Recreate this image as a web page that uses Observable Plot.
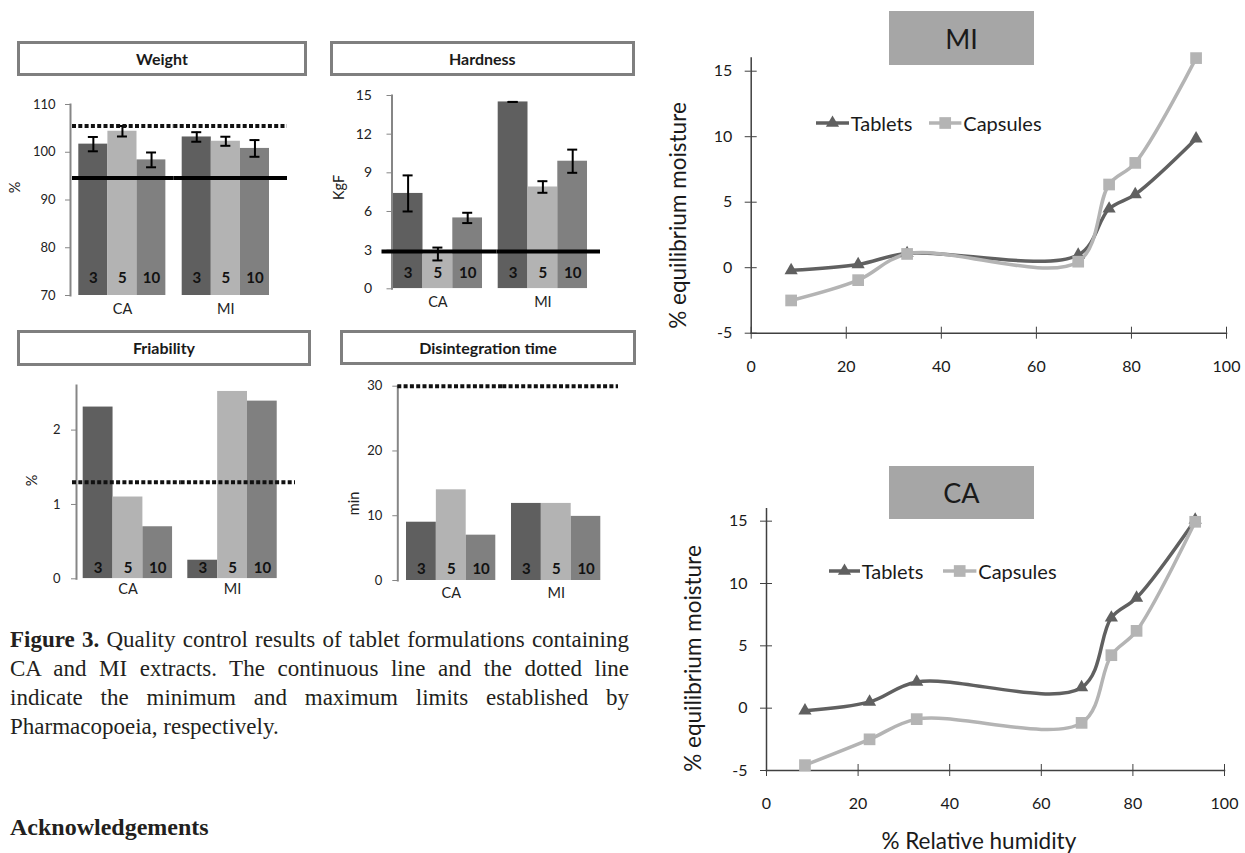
<!DOCTYPE html>
<html>
<head>
<meta charset="utf-8">
<script src="https://cdn.jsdelivr.net/npm/d3@7"></script>
<script src="https://cdn.jsdelivr.net/npm/@observablehq/plot@0.6"></script>
<style>
  body { margin: 0; background: #fff; }
  #page { position: relative; width: 1245px; height: 853px; overflow: hidden; background: #fff; font-family: Lato, sans-serif; }
  .panel-title { position: absolute; box-sizing: border-box; border: 3px solid #7f7f7f; background: #fff;
    display: flex; align-items: center; justify-content: center; font: bold 16px Lato, sans-serif; color: #1a1a1a; }
  .big-title { position: absolute; background: #a6a6a6; display: flex; align-items: center; justify-content: center;
    font: 27px Lato, sans-serif; color: #1a1a1a; }
  .legend-item { position: absolute; display: flex; align-items: center; font: 20px Lato, sans-serif; color: #1a1a1a; white-space: nowrap; height: 24px; }
  #caption { position: absolute; left: 10px; top: 625px; width: 619px; font: 23px "Liberation Serif", "Times New Roman", serif; line-height: 29px; color: #231f20; }
  #caption .j { text-align: justify; text-align-last: justify; }
  #ack { position: absolute; left: 10px; top: 814px; font: bold 24px "Liberation Serif", "Times New Roman", serif; color: #231f20; }
</style>
</head>
<body>
<div id="page"></div>
<script>
// ---------------- data ----------------
const groups = ["CA", "MI"];
const concentrations = ["3", "5", "10"];

const weightValues = [101.7, 104.4, 98.4, 103.2, 102.3, 100.8];
const weightErrors = [1.5, 1.1, 1.55, 1.0, 0.95, 1.75];
const weightMin = 94.6;
const weightMax = 105.5;
const weightTicks = [70, 80, 90, 100, 110];

const hardnessValues = [7.4, 2.7, 5.5, 14.5, 7.9, 9.9];
const hardnessErrors = [1.4, 0.5, 0.4, 0.0, 0.45, 0.9];
const hardnessMin = 2.9;
const hardnessTicks = [0, 3, 6, 9, 12, 15];

const friabilityValues = [2.31, 1.10, 0.70, 0.25, 2.52, 2.39];
const friabilityMax = 1.3;
const friabilityTicks = [0, 1, 2];

const disintegrationValues = [9.0, 14.0, 7.0, 11.9, 11.9, 9.9];
const disintegrationMax = 30;
const disintegrationTicks = [0, 10, 20, 30];

const relativeHumidity = [8.4, 22.5, 32.8, 68.8, 75.3, 80.8, 93.6];
const miTablets  = [-0.2, 0.25, 1.1, 0.97, 4.5, 5.6, 9.85];
const miCapsules = [-2.5, -0.95, 1.05, 0.46, 6.35, 8.0, 16.0];
const caTablets  = [-0.2, 0.5, 2.1, 1.66, 7.25, 8.85, 15.1];
const caCapsules = [-4.57, -2.5, -0.88, -1.18, 4.25, 6.2, 14.95];
const moistureYTicks = [-5, 0, 5, 10, 15];
const moistureXTicks = [0, 20, 40, 60, 80, 100];
const seriesNames = ["Tablets", "Capsules"];

// ---------------- styles ----------------
const barColors = ["#5f5f5f", "#b3b3b3", "#808080"];
const axisGray = "#868686";
const darkSeries = "#606060";
const lightSeries = "#b4b4b4";

const page = document.getElementById("page");
function place(el, left, top) {
  el.style.position = "absolute";
  el.style.left = left + "px";
  el.style.top = top + "px";
  page.appendChild(el);
}

// ---------------- bar panels ----------------
function barPanel(cfg) {
  const {lay, values, errors, mins, maxs, yDomain, yTicks, yLabel, labelPos, tickFont, tickPad, fxPad, concDy, extLeft = 0} = cfg;
  const data = groups.flatMap((g, gi) => concentrations.map((c, ci) => ({
    group: g, conc: c, value: values[gi * 3 + ci], err: errors ? errors[gi * 3 + ci] : null
  })));
  const inset = lay.s - lay.L;
  const band = inset + 3 * lay.w;
  const gapBand = lay.mi - inset - (lay.s + 3 * lay.w);
  const step = band + gapBand;
  const pI = gapBand / step;
  const pO = ((lay.R - lay.L) / step - 2 + pI) / 2;
  const miBandEnd = lay.mi - inset + band;
  const capInset = (lay.w - 10) / 2;
  const withErr = data.filter(d => d.err != null);

  function limit(v, dashed) {
    const style = dashed
      ? {stroke: "#111", strokeWidth: 4, strokeDasharray: "4,2.3"}
      : {stroke: "#000", strokeWidth: 4};
    return [
      Plot.ruleY([{group: groups[0], v}], {fx: "group", y: "v", insetLeft: -extLeft, insetRight: -gapBand, ...style}),
      Plot.ruleY([{group: groups[1], v}], {fx: "group", y: "v", insetLeft: 0, insetRight: -(lay.R - miBandEnd), ...style})
    ];
  }

  const marks = [
    Plot.barY(data, {fx: "group", x: "conc", y: "value", fill: "conc", clip: true}),
  ];
  if (errors) {
    marks.push(
      Plot.ruleX(withErr, {fx: "group", x: "conc", y1: d => d.value - d.err, y2: d => d.value + d.err, stroke: "#000", strokeWidth: 2}),
      Plot.tickY(withErr, {fx: "group", x: "conc", y: d => d.value + d.err, insetLeft: capInset, insetRight: capInset, stroke: "#000", strokeWidth: 2}),
      Plot.tickY(withErr, {fx: "group", x: "conc", y: d => d.value - d.err, insetLeft: capInset, insetRight: capInset, stroke: "#000", strokeWidth: 2})
    );
  }
  marks.push(
    Plot.text(data, {fx: "group", x: "conc", text: "conc", frameAnchor: "bottom", dy: -concDy, lineAnchor: "middle",
      fontWeight: "bold", fontSize: 15, fill: "#111"}),
    Plot.axisY({ticks: yTicks, tickSize: 5, tickPadding: tickPad, tickFormat: d => String(d), stroke: axisGray, fill: "#222", fontSize: tickFont, label: null}),
    Plot.axisFx({anchor: "bottom", tickSize: 0, tickPadding: fxPad, dx: inset / 2, fontSize: 14.5, fill: "#222", label: null}),
    Plot.frame({anchor: "left", facet: "super", stroke: axisGray, strokeWidth: 2}),
    Plot.text([yLabel], {facet: "super", text: d => d, frameAnchor: "left", textAnchor: "middle", lineAnchor: "middle",
      dx: labelPos[0] - lay.L, dy: labelPos[1] - (lay.T + lay.B) / 2, rotate: -90, fontSize: 14.5, fill: "#222"})
  );
  for (const v of mins) marks.push(...limit(v, false));
  for (const v of maxs) marks.push(...limit(v, true));

  const chart = Plot.plot({
    width: lay.W, height: lay.H,
    marginLeft: lay.L - lay.left, marginRight: lay.left + lay.W - lay.R,
    marginTop: lay.T - lay.top, marginBottom: lay.top + lay.H - lay.B,
    style: {fontFamily: "Lato, sans-serif", background: "transparent", overflow: "visible"},
    fx: {domain: groups, paddingInner: pI, paddingOuter: pO, align: 0, round: false},
    x: {domain: concentrations, padding: 0, insetLeft: inset, round: false, axis: null},
    y: {domain: yDomain},
    color: {domain: concentrations, range: barColors},
    marks
  });
  place(chart, lay.left, lay.top);
}

barPanel({
  lay: {left: 0, top: 0, W: 320, H: 330, L: 70, R: 287, s: 78.3, w: 29.1, mi: 181.7, T: 104, B: 295},
  values: weightValues, errors: weightErrors, mins: [weightMin], maxs: [weightMax],
  yDomain: [70, 110], yTicks: weightTicks, yLabel: "%", labelPos: [14.5, 187],
  tickFont: 13, tickPad: 10, fxPad: 8, concDy: 17.5, extLeft: -2
});
barPanel({
  lay: {left: 320, top: 0, W: 330, H: 330, L: 391.5, R: 600, s: 392.7, w: 29.8, mi: 497.7, T: 95, B: 288.3},
  values: hardnessValues, errors: hardnessErrors, mins: [hardnessMin], maxs: [],
  yDomain: [0, 15], yTicks: hardnessTicks, yLabel: "KgF", labelPos: [339, 187],
  tickFont: 14, tickPad: 15, fxPad: 8, concDy: 16, extLeft: 10
});
barPanel({
  lay: {left: 0, top: 330, W: 320, H: 290, L: 76, R: 295, s: 82.7, w: 29.85, mi: 187.3, T: 385, B: 578.3},
  values: friabilityValues, errors: null, mins: [], maxs: [friabilityMax],
  yDomain: [0, 2.6], yTicks: friabilityTicks, yLabel: "%", labelPos: [32, 480],
  tickFont: 13, tickPad: 11, fxPad: 4.5, concDy: 10.6, extLeft: 4
});
barPanel({
  lay: {left: 320, top: 330, W: 330, H: 290, L: 397.3, R: 618, s: 406, w: 29.85, mi: 511, T: 385.7, B: 580},
  values: disintegrationValues, errors: null, mins: [], maxs: [disintegrationMax],
  yDomain: [0, 30], yTicks: disintegrationTicks, yLabel: "min", labelPos: [354, 503],
  tickFont: 13, tickPad: 10.5, fxPad: 6.8, concDy: 11, extLeft: 0
});

// ---------------- moisture panels ----------------
function moisturePanel({lay, tablets, capsules, yLabelPos, xLabel, xLabelPos}) {
  const t = relativeHumidity.map((x, i) => ({rh: x, v: tablets[i]}));
  const c = relativeHumidity.map((x, i) => ({rh: x, v: capsules[i]}));
  const marks = [
    Plot.axisY({ticks: moistureYTicks, tickSize: 6, tickPadding: 13, tickFormat: d => String(d), fontSize: 16,
      stroke: "#404040", fill: "#1a1a1a", label: null}),
    Plot.axisY({ticks: moistureYTicks, tickSize: -6, tickFormat: () => "", stroke: "#404040", label: null}),
    Plot.axisX({ticks: moistureXTicks, tickSize: 6, tickPadding: 21, tickFormat: d => String(d), fontSize: 16,
      stroke: "#404040", fill: "#1a1a1a", label: null}),
    Plot.axisX({ticks: moistureXTicks, tickSize: -6, tickFormat: () => "", stroke: "#404040", label: null}),
    Plot.frame({anchor: "left", stroke: "#404040", strokeWidth: 1.5}),
    Plot.frame({anchor: "bottom", stroke: "#404040", strokeWidth: 1.5}),
    Plot.text(["% equilibrium moisture"], {text: d => d, frameAnchor: "left", textAnchor: "middle", lineAnchor: "middle",
      dx: yLabelPos[0] - lay.L, dy: yLabelPos[1] - (lay.T + lay.B) / 2, rotate: -90, fontSize: 22.5, fill: "#1a1a1a"}),
    Plot.line(t, {x: "rh", y: "v", stroke: darkSeries, strokeWidth: 3.5, curve: "catmull-rom"}),
    Plot.line(c, {x: "rh", y: "v", stroke: lightSeries, strokeWidth: 3.5, curve: "catmull-rom"}),
    Plot.dot(t, {x: "rh", y: "v", symbol: "triangle", r: 4.9, fill: darkSeries, stroke: "none"}),
    Plot.dot(c, {x: "rh", y: "v", symbol: "square", r: 6.6, fill: lightSeries, stroke: "none"})
  ];
  if (xLabel) {
    marks.push(Plot.text([xLabel], {text: d => d, frameAnchor: "bottom", textAnchor: "middle", lineAnchor: "middle",
      dx: xLabelPos[0] - (lay.L + lay.R) / 2, dy: xLabelPos[1] - lay.B, fontSize: 22.5, fill: "#1a1a1a"}));
  }
  const chart = Plot.plot({
    width: lay.W, height: lay.H,
    marginLeft: lay.L - lay.left, marginRight: lay.left + lay.W - lay.R,
    marginTop: lay.T - lay.top, marginBottom: lay.top + lay.H - lay.B,
    style: {fontFamily: "Lato, sans-serif", background: "transparent", overflow: "visible"},
    x: {domain: [0, 100]},
    y: {domain: [-5, 16]},
    marks
  });
  place(chart, lay.left, lay.top);
}

moisturePanel({
  lay: {left: 660, top: 0, W: 585, H: 420, L: 750.7, R: 1226, T: 57.6, B: 332.7},
  tablets: miTablets, capsules: miCapsules, yLabelPos: [678.3, 215]
});
moisturePanel({
  lay: {left: 660, top: 420, W: 585, H: 433, L: 766, R: 1224, T: 508.2, B: 770},
  tablets: caTablets, capsules: caCapsules, yLabelPos: [693.3, 658],
  xLabel: "% Relative humidity", xLabelPos: [978.3, 841.7]
});

// ---------------- titles ----------------
function panelTitle(text, left, top, w, h) {
  const d = document.createElement("div");
  d.className = "panel-title";
  d.style.width = w + "px"; d.style.height = h + "px";
  d.textContent = text;
  place(d, left, top);
}
panelTitle("Weight", 17, 41, 290, 35);
panelTitle("Hardness", 329.5, 41, 305.5, 35);
panelTitle("Friability", 17, 329.5, 294, 36);
panelTitle("Disintegration time", 340, 329.5, 296, 35.5);

function bigTitle(text, left, top, w, h) {
  const d = document.createElement("div");
  d.className = "big-title";
  d.style.width = w + "px"; d.style.height = h + "px";
  d.textContent = text;
  place(d, left, top);
}
bigTitle("MI", 889, 11, 145, 54);
bigTitle("CA", 889, 466, 145, 53);

// ---------------- legends ----------------
function legendItem(name, symbol, color, swLeft, swWidth, textLeft, yCenter) {
  const d = document.createElement("div");
  d.className = "legend-item";
  const ns = "http://www.w3.org/2000/svg";
  const svg = document.createElementNS(ns, "svg");
  svg.setAttribute("width", swWidth); svg.setAttribute("height", 24);
  const line = document.createElementNS(ns, "line");
  line.setAttribute("x1", 0); line.setAttribute("x2", swWidth);
  line.setAttribute("y1", 12); line.setAttribute("y2", 12);
  line.setAttribute("stroke", color); line.setAttribute("stroke-width", 3.5);
  svg.appendChild(line);
  const path = document.createElementNS(ns, "path");
  const sym = symbol === "triangle" ? d3.symbolTriangle : d3.symbolSquare;
  const size = symbol === "triangle" ? Math.PI * 4.9 * 4.9 : Math.PI * 6.6 * 6.6;
  path.setAttribute("d", d3.symbol(sym, size)());
  path.setAttribute("transform", `translate(${swWidth / 2},12)`);
  path.setAttribute("fill", color);
  svg.appendChild(path);
  d.appendChild(svg);
  const span = document.createElement("span");
  span.textContent = name;
  span.style.marginLeft = (textLeft - swLeft - swWidth) + "px";
  d.appendChild(span);
  place(d, swLeft, yCenter - 12);
}
legendItem(seriesNames[0], "triangle", darkSeries, 816, 33, 850.7, 123.3);
legendItem(seriesNames[1], "square", lightSeries, 929.3, 32.4, 963.3, 123.3);
legendItem(seriesNames[0], "triangle", darkSeries, 829.3, 31, 861.7, 571);
legendItem(seriesNames[1], "square", lightSeries, 943.3, 33.4, 978.3, 571);

// ---------------- caption ----------------
const cap = document.createElement("div");
cap.id = "caption";
cap.innerHTML = '<div class="j"><b>Figure 3.</b> Quality control results of tablet formulations containing</div>' +
  '<div class="j">CA and MI extracts. The continuous line and the dotted line</div>' +
  '<div class="j">indicate the minimum and maximum limits established by</div>' +
  '<div>Pharmacopoeia, respectively.</div>';
page.appendChild(cap);
const ack = document.createElement("div");
ack.id = "ack";
ack.textContent = "Acknowledgements";
page.appendChild(ack);
</script>
</body>
</html>
